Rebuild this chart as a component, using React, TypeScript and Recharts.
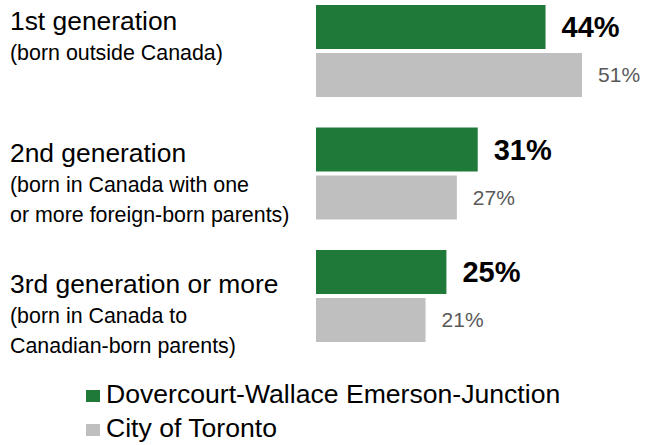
import { BarChart, Bar, XAxis, YAxis, LabelList, Legend } from 'recharts';

const categories = ['1st generation', '2nd generation', '3rd generation or more'];
const subtitles = [
  ['(born outside Canada)'],
  ['(born in Canada with one', 'or more foreign-born parents)'],
  ['(born in Canada to', 'Canadian-born parents)'],
];
const dovercourt = [44, 31, 25];
const toronto = [51, 27, 21];
const seriesOrder = ['dovercourt', 'toronto'];

const GREEN = '#1F7A3A';
const GRAY = '#BFBFBF';
const FONT = '"Liberation Sans", Arial, sans-serif';

// title baseline offset from the band centre, per category
const TITLE_DY = [-21, -12, -3];

const data = categories.map((name, i) => ({
  name,
  sub: subtitles[i],
  dovercourt: dovercourt[i],
  toronto: toronto[i],
}));

function CategoryTick(props: any) {
  const { y, index } = props;
  const row = data[index];
  const base = y + TITLE_DY[index];
  return (
    <g>
      <text x={10} y={base} fontSize={26.4} fill="#000" fontFamily={FONT}>
        {row.name}
      </text>
      {row.sub.map((line, k) => (
        <text key={k} x={10} y={base + 30 + k * 30} fontSize={21.4} fill="#000" fontFamily={FONT}>
          {line}
        </text>
      ))}
    </g>
  );
}

function renderLegend(props: any) {
  // keep series order (recharts sorts legend items by name otherwise)
  const items = [...(props.payload || [])].sort(
    (a: any, b: any) => seriesOrder.indexOf(a.dataKey) - seriesOrder.indexOf(b.dataKey)
  );
  return (
    <div style={{ fontFamily: FONT, fontSize: 26.6, lineHeight: '34px', color: '#000' }}>
      {items.map((it: any) => (
        <div key={it.value} style={{ paddingLeft: 86, whiteSpace: 'nowrap' }}>
          <span
            style={{
              display: 'inline-block',
              width: 14,
              height: 12,
              background: it.color,
              marginRight: 6,
              marginBottom: 1,
              verticalAlign: 'baseline',
            }}
          />
          {it.value}
        </div>
      ))}
    </div>
  );
}

export default function App() {
  return (
    <div style={{ position: 'absolute', left: 0, top: -10 }}>
      <BarChart
        width={656}
        height={455}
        data={data}
        layout="vertical"
        margin={{ top: 0, right: 27, bottom: 87.5, left: 0 }}
        barSize={44}
        barGap={4}
        style={{ fontFamily: FONT }}
      >
        <XAxis type="number" hide domain={[0, 60]} />
        <YAxis
          type="category"
          dataKey="name"
          width={316}
          axisLine={false}
          tickLine={false}
          interval={0}
          tick={<CategoryTick />}
        />
        <Legend
          layout="horizontal"
          verticalAlign="middle"
          align="center"
          content={renderLegend}
          wrapperStyle={{ left: 0, top: 387, width: 656 }}
        />
        <Bar dataKey="dovercourt" name="Dovercourt-Wallace Emerson-Junction" fill={GREEN} isAnimationActive={false}>
          <LabelList
            dataKey="dovercourt"
            position="right"
            offset={16}
            formatter={(v: any) => `${v}%`}
            fill="#000"
            fontSize={29}
            fontWeight="bold"
            fontFamily={FONT}
          />
        </Bar>
        <Bar dataKey="toronto" name="City of Toronto" fill={GRAY} isAnimationActive={false}>
          <LabelList
            dataKey="toronto"
            position="right"
            offset={16}
            formatter={(v: any) => `${v}%`}
            fill="#595959"
            fontSize={21}
            fontFamily={FONT}
          />
        </Bar>
      </BarChart>
    </div>
  );
}
